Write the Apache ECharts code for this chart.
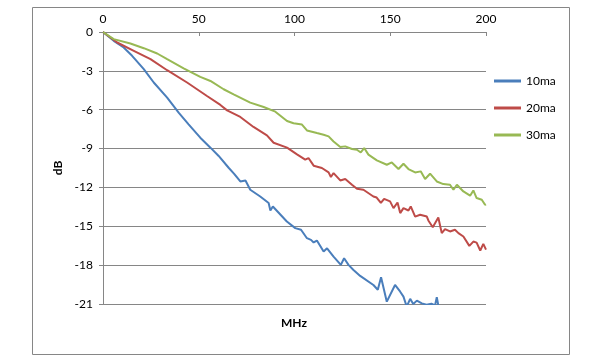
<!DOCTYPE html>
<html>
<head>
<meta charset="utf-8">
<script src="https://cdn.jsdelivr.net/npm/echarts@6/dist/echarts.min.js"></script>
<style>
html,body{margin:0;padding:0;background:#fff;}
#chart{width:591px;height:357px;}
</style>
</head>
<body>
<div id="chart"></div>
<script>
var seriesNames = ['10ma', '20ma', '30ma'];
var xTicks = [0, 50, 100, 150, 200];
var yTicks = [0, -3, -6, -9, -12, -15, -18, -21];

var freq10 = [0,5.6,10.8,15.2,21.3,26.5,33.5,39.5,44.7,50.8,56.1,60.4,65.6,68.5,71.7,74.4,76.9,82.1,86.5,87.4,88.7,96,100.4,103.4,106.5,108.6,110,111.7,115.2,117,120.4,124.2,125.9,128.2,130.8,134.3,141.2,143.5,145.2,148.2,152.5,155.2,156.9,158.6,160.4,162,163.9,166.5,169,171.5,173.4,174.3,175.1,176];
var db10 = [0,-0.68,-1.2,-1.84,-2.87,-3.9,-5.07,-6.23,-7.13,-8.16,-8.93,-9.57,-10.48,-10.95,-11.54,-11.46,-12.18,-12.7,-13.2,-13.78,-13.47,-14.63,-15.14,-15.27,-15.92,-16.05,-16.25,-16.1,-16.95,-16.7,-17.34,-17.98,-17.47,-17.98,-18.37,-18.83,-19.53,-19.9,-18.93,-20.82,-19.53,-20.05,-20.43,-21.2,-20.6,-21,-20.74,-20.95,-21.05,-20.98,-21.1,-20.48,-21.1,-21.4];

var freq20 = [0,7.4,16.1,24.8,33.5,43.9,49.1,54.3,61.3,64.8,71.7,78.6,85.6,89.1,96.1,101.3,105.6,107.3,110,114.3,117.8,119,120.4,123.9,126.5,130,132.6,136,141.2,142.9,145.1,146.8,149.9,151.7,153.8,155.2,156.9,159.5,160.7,163,165.6,169.1,169.9,172.2,175.1,176.9,178.6,181.2,183.8,185.6,188.2,191.3,193.4,195.1,197,198.6,200];
var db20 = [0,-0.81,-1.45,-2.1,-2.95,-3.9,-4.42,-4.94,-5.63,-6.05,-6.56,-7.33,-7.98,-8.55,-8.93,-9.45,-9.86,-9.73,-10.32,-10.5,-10.84,-11.2,-10.89,-11.46,-11.35,-11.79,-12.1,-12.18,-12.7,-12.78,-13.2,-12.88,-13.08,-13.6,-13.16,-13.98,-13.6,-13.78,-13.47,-14.25,-14.11,-14.25,-14.55,-15.07,-14.32,-15.53,-15.22,-15.4,-15.27,-15.53,-15.79,-16.51,-16.18,-16.26,-16.87,-16.36,-16.8];

var freq30 = [0,5.6,14.3,21.3,28.3,33.5,42.1,50.8,56.1,63,68.2,76.9,83.9,90,96.1,99.5,103.9,106.5,111.7,115.2,117.8,120.4,123.9,126.5,130,132.6,134.6,136.4,138.6,143,148.2,150.8,154.3,156.9,159.5,163,165.9,168.2,170.8,174.3,177.7,181.2,183,184.8,188.2,191.7,193.4,195.1,197.8,199.5,200];
var db30 = [0,-0.55,-0.89,-1.25,-1.66,-2.1,-2.8,-3.47,-3.78,-4.42,-4.81,-5.45,-5.79,-6.15,-6.87,-7.05,-7.15,-7.6,-7.8,-7.93,-8.06,-8.45,-8.88,-8.83,-9.03,-9.09,-9.3,-8.96,-9.47,-9.91,-10.25,-10.07,-10.58,-10.17,-10.58,-10.84,-10.76,-11.35,-10.94,-11.54,-11.74,-11.79,-12.18,-11.79,-12.31,-12.64,-12.23,-12.82,-12.95,-13.34,-13.3];

var colors = ['#4A7EBB', '#BE4B48', '#98B954'];
var FONT = 'Lato';

function zip(xs, ys) {
  var out = [];
  for (var i = 0; i < Math.min(xs.length, ys.length); i++) out.push([xs[i], ys[i]]);
  return out;
}
var allData = [zip(freq10, db10), zip(freq20, db20), zip(freq30, db30)];

var chart = echarts.init(document.getElementById('chart'), null, {renderer: 'canvas'});
chart.setOption({
  animation: false,
  backgroundColor: '#fff',
  color: colors,
  grid: {left: 103, top: 32, width: 383, height: 272, containLabel: false},
  legend: {
    orient: 'vertical',
    left: 494,
    top: 74,
    padding: 0,
    icon: 'rect',
    itemWidth: 27,
    itemHeight: 3,
    itemGap: 13,
    textStyle: {fontFamily: FONT, fontSize: 12, color: '#000', lineHeight: 14},
    data: seriesNames
  },
  xAxis: {
    type: 'value',
    position: 'top',
    min: xTicks[0],
    max: xTicks[xTicks.length - 1],
    interval: xTicks[1] - xTicks[0],
    axisLine: {show: true, onZero: false, lineStyle: {color: '#868686', width: 1}},
    axisTick: {show: true, inside: true, length: 4, lineStyle: {color: '#868686'}},
    axisLabel: {fontFamily: FONT, fontSize: 12, color: '#000', margin: 7},
    splitLine: {show: false}
  },
  yAxis: {
    type: 'value',
    min: yTicks[yTicks.length - 1],
    max: yTicks[0],
    interval: yTicks[0] - yTicks[1],
    name: 'dB',
    nameLocation: 'middle',
    nameRotate: 90,
    nameGap: 38,
    nameTextStyle: {fontFamily: FONT, fontSize: 12, fontWeight: 'bold', color: '#000'},
    axisLine: {show: true, onZero: false, lineStyle: {color: '#868686', width: 1}},
    axisTick: {show: true, inside: false, length: 4, lineStyle: {color: '#868686'}},
    axisLabel: {fontFamily: FONT, fontSize: 12, color: '#000', margin: 10},
    splitLine: {show: true, lineStyle: {color: '#868686', width: 1}}
  },
  graphic: [
    {type: 'rect', shape: {x: 32.5, y: 7.5, width: 537, height: 347}, style: {fill: 'none', stroke: '#868686', lineWidth: 1}, silent: true, z: -1},
    {type: 'text', x: 294, y: 323, style: {text: 'MHz', fontFamily: FONT, fontSize: 12, fontWeight: 'bold', fill: '#000', textAlign: 'center', textVerticalAlign: 'middle'}}
  ],
  series: seriesNames.map(function (n, i) {
    return {
      name: n,
      type: 'line',
      data: allData[i],
      symbol: 'none',
      clip: true,
      lineStyle: {width: 2, color: colors[i]},
      itemStyle: {color: colors[i]}
    };
  })
});
</script>
</body>
</html>
